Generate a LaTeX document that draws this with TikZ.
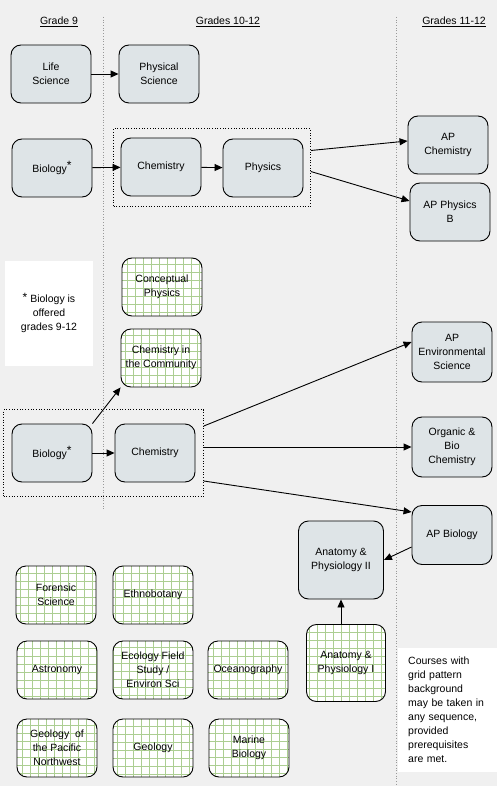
\documentclass[tikz,border=0pt]{standalone}
\usepackage{fontspec}
\setmainfont{Liberation Sans}
\usetikzlibrary{arrows.meta,fit,positioning}
\definecolor{paper}{RGB}{240,240,240}
\definecolor{course}{RGB}{222,228,231}
\definecolor{gridline}{RGB}{172,206,146}
\tikzset{cs/.style={draw=black,fill=course,rounded corners=10pt,minimum width=80pt,
minimum height=58pt,inner sep=2pt,align=center,line width=0.9pt},
gc/.style={cs,fill=white,path picture={\draw[gridline,line width=0.7pt,step=8pt]
(path picture bounding box.south west) grid (path picture bounding box.north east);}}}
\tikzstyle{grp}       = [draw=black, dotted, line width=0.7pt]
\tikzstyle{colline}   = [draw=gray!80, dotted, line width=0.7pt]

\begin{document}
\begin{tikzpicture}[x=1pt,y=-1pt,every node/.append style={font=\fontsize{10.5}{14}\selectfont}]
		\fill[paper] (0,0) rectangle (497,786);
		\useasboundingbox (0,0) rectangle (497,786);

		% column rules and headings
		\draw[colline] (103,17) -- (103,510);
		\draw[colline] (396,17) -- (396,786);
		\node (g9) at (59,22) {\underline{Grade 9}};
		\node (g1012) at (228,22) {\underline{Grades 10-12}};
		\node (g1112) at (454,22) {\underline{Grades 11-12}};

		% notes
		\node (bionote) [fill=white, minimum width=88pt, minimum height=105pt, align=center] at (49,313)
			{\raisebox{1pt}{\large *} Biology is\\offered\\grades 9-12};
		\node (gridnote) [fill=white, minimum width=99pt, minimum height=124pt, text width=79pt,
			inner xsep=10pt, align=left, anchor=north west] at (398,648)
			{Courses with\\grid pattern\\background\\may be taken in\\any sequence,\\provided\\prerequisites\\are met.};

		\begin{scope}[every node/.style={cs,font=\fontsize{10.5}{14}\selectfont}]
			\node (life) at (51,74) {Life\\Science};
			\node (physci) at (159,74) {Physical\\Science};
			\node (bio1) at (52,168) {Biology\raisebox{3pt}{\large *}};
			\node (chem1) at (161,167) {Chemistry};
			\node (phys) at (263,168) {Physics};
			\node (apchem) at (448,145) {AP\\Chemistry};
			\node (appb) at (450,212) {AP Physics\\B};
			\node (bio2) at (52,453) {Biology\raisebox{3pt}{\large *}};
			\node (chem2) at (155,453) {Chemistry};
			\node (apenv) [minimum height=60pt] at (452,352) {AP\\Environmental\\Science};
			\node (org) [minimum height=60pt] at (452,447) {Organic \&\\Bio\\Chemistry};
			\node (apbio) [minimum height=59pt] at (452,535) {AP Biology};
			\node (anat2) [minimum width=85pt, minimum height=78pt] at (341,560) {Anatomy \&\\Physiology II};
		\end{scope}

		\begin{scope}[every node/.style={gc,font=\fontsize{10.5}{14}\selectfont}]
			\node (concphys) at (162,287) {Conceptual\\Physics};
			\node (chemcomm) at (161,358) {Chemistry in\\the Community};
			\node (anat1) [minimum width=79pt, minimum height=77pt] at (346,663) {Anatomy \&\\Physiology I};
			\node (forensic) at (56,595) {Forensic\\Science};
			\node (ethno) at (153,595) {Ethnobotany};
			\node (astro) at (57,670) {Astronomy};
			\node (ecology) at (153,670) {Ecology Field\\Study /\\Environ Sci};
			\node (ocean) at (248,670) {Oceanography};
			\node (geopnw) at (57,748) {Geology~ of\\the Pacific\\Northwest};
			\node (geology) at (153,748) {Geology};
			\node (marine) at (249,748) {Marine\\Biology};
		\end{scope}

		% dotted groups
		\node (grp1) [grp, fit=(chem1)(phys), inner xsep=7pt, inner ysep=9pt] {};
		\node (grp2) [grp, fit=(bio2)(chem2), inner xsep=8pt, inner ysep=14pt] {};

		\begin{scope}[>={Triangle[length=8pt,width=7pt]},
			every edge/.style={draw=black,line width=0.9pt}]
			\path [->] (life) edge (physci);
			\path [->] (bio1) edge (chem1);
			\path [->] (chem1) edge (phys);
			\path [->] ([yshift=17pt]grp1.east) edge ([yshift=4pt]apchem.west);
			\path [->] ([yshift=-4pt]grp1.east) edge ([yshift=11pt]appb.west);
			\path [->] (bio2.north east) edge (chemcomm.south west);
			\path [->] (bio2) edge (chem2);
			\path [->] ([yshift=27pt]grp2.east) edge ([yshift=10pt]apenv.west);
			\path [->] (grp2.east |- org.west) edge (org.west);
			\path [->] ([yshift=-28pt]grp2.east) edge ([yshift=23pt]apbio.west);
			\path [->] ([yshift=-12pt]apbio.west) edge (anat2.east);
			\path [->] (anat1.north -| anat2.south) edge (anat2.south);
		\end{scope}
	\end{tikzpicture}
\end{document}
